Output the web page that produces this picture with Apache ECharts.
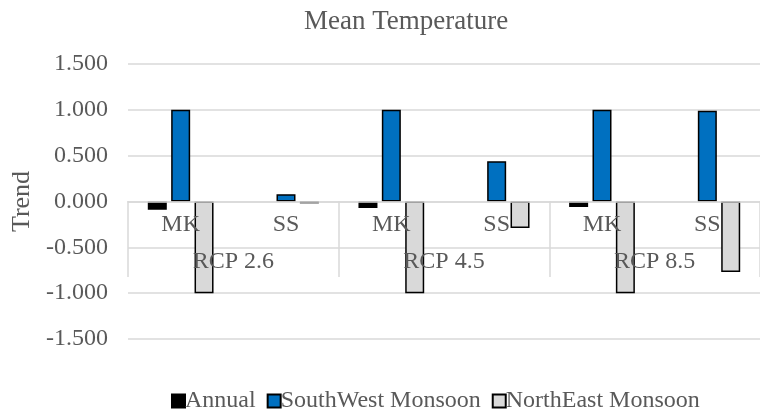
<!DOCTYPE html>
<html>
<head>
<meta charset="utf-8">
<script src="https://cdn.jsdelivr.net/npm/echarts@6/dist/echarts.min.js"></script>
<style>
  html, body { margin: 0; padding: 0; background: #fff; }
  #chart { width: 760px; height: 412px; }
</style>
</head>
<body>
<div id="chart"></div>
<script>
// Test labels (inner level) and scenario labels (outer level)
const tests = ['MK', 'SS', 'MK', 'SS', 'MK', 'SS'];
const scenarios = ['RCP 2.6', 'RCP 4.5', 'RCP 8.5'];

// Trend values per season, one entry per test/scenario pair
const annual = [-0.09, null, -0.07, null, -0.06, null];
const southWest = [1.0, 0.08, 1.0, 0.44, 1.0, 0.99];
const northEast = [-1.0, -0.02, -1.0, -0.29, -1.0, -0.77];

const yTicks = { min: -1.5, max: 1.5, step: 0.5 };

const serif = '"Liberation Serif", "Times New Roman", serif';
const textGrey = '#595959';
const lineGrey = '#d9d9d9';

// plot box in pixels; the zero line sits halfway down
const plot = { left: 128, top: 64, width: 645, height: 275 };
const zeroFromBottom = plot.height / 2;

const chart = echarts.init(document.getElementById('chart'));

function barSeries(name, data, color) {
  return {
    name: name,
    type: 'bar',
    data: data,
    barWidth: 19,
    barGap: '23%',
    itemStyle: { color: color, borderColor: '#000', borderWidth: 1.5 }
  };
}

chart.setOption({
  animation: false,
  title: {
    text: 'Mean Temperature',
    left: 299,
    top: 3,
    textStyle: { fontFamily: serif, fontSize: 27, fontWeight: 'normal', color: textGrey }
  },
  legend: {
    left: 166,
    top: 384,
    itemWidth: 13,
    itemHeight: 13,
    itemGap: 11,
    icon: 'rect',
    textStyle: { fontFamily: serif, fontSize: 24, color: textGrey, padding: [0, 0, 0, -5] },
    data: ['Annual', 'SouthWest Monsoon', 'NorthEast Monsoon']
  },
  grid: plot,
  xAxis: [
    {
      type: 'category',
      data: tests,
      position: 'bottom',
      offset: -zeroFromBottom,
      z: 5,
      axisLine: { onZero: false, lineStyle: { color: lineGrey, width: 1.5 } },
      axisTick: { show: false },
      axisLabel: { margin: 11, fontFamily: serif, fontSize: 24, color: textGrey }
    },
    {
      type: 'category',
      data: scenarios,
      position: 'bottom',
      offset: -62,
      z: 5,
      axisLine: { show: false, onZero: false },
      axisTick: { show: true, inside: true, length: 76, lineStyle: { color: lineGrey, width: 1.5 } },
      axisLabel: { inside: true, margin: 3, fontFamily: serif, fontSize: 24, color: textGrey }
    }
  ],
  yAxis: {
    type: 'value',
    min: yTicks.min,
    max: yTicks.max,
    interval: yTicks.step,
    name: 'Trend',
    nameLocation: 'middle',
    nameGap: 90,
    nameTextStyle: { fontFamily: serif, fontSize: 26, color: textGrey },
    axisLine: { show: false },
    axisTick: { show: false },
    axisLabel: {
      margin: 20,
      fontFamily: serif,
      fontSize: 24,
      color: textGrey,
      formatter: v => v.toFixed(3)
    },
    splitLine: { lineStyle: { color: lineGrey, width: 1.5 } }
  },
  series: [
    barSeries('Annual', annual, '#000000'),
    barSeries('SouthWest Monsoon', southWest, '#0070c0'),
    barSeries('NorthEast Monsoon', northEast, '#d9d9d9')
  ]
});
</script>
</body>
</html>
